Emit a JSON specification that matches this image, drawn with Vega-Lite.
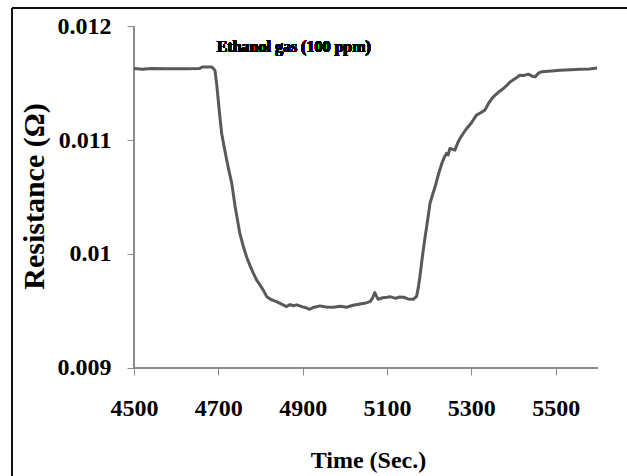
{
  "$schema": "https://vega.github.io/schema/vega-lite/v6.json",
  "width": 615,
  "height": 468,
  "autosize": {"type": "none"},
  "padding": {"left": 12, "top": 8, "right": 0, "bottom": 0},
  "background": "white",
  "config": {"view": {"stroke": null}},
  "data": {"values": [
    {"t": 4500, "r": 0.011628}, {"t": 4520, "r": 0.011622}, {"t": 4540, "r": 0.011628}, {"t": 4580, "r": 0.011626},
    {"t": 4620, "r": 0.011627}, {"t": 4655, "r": 0.011628}, {"t": 4662, "r": 0.011642}, {"t": 4685, "r": 0.011642},
    {"t": 4692, "r": 0.011614}, {"t": 4696, "r": 0.0115}, {"t": 4700, "r": 0.01135}, {"t": 4704, "r": 0.0112},
    {"t": 4708, "r": 0.01106}, {"t": 4714, "r": 0.01094}, {"t": 4720, "r": 0.010825}, {"t": 4726, "r": 0.01072},
    {"t": 4732, "r": 0.01062}, {"t": 4740, "r": 0.010415}, {"t": 4746, "r": 0.01029}, {"t": 4751, "r": 0.010182},
    {"t": 4759, "r": 0.01007}, {"t": 4767, "r": 0.009976}, {"t": 4775, "r": 0.0099}, {"t": 4783, "r": 0.009831},
    {"t": 4791, "r": 0.00977}, {"t": 4799, "r": 0.009728}, {"t": 4807, "r": 0.00968}, {"t": 4815, "r": 0.009625},
    {"t": 4825, "r": 0.0096}, {"t": 4838, "r": 0.009582}, {"t": 4850, "r": 0.00956}, {"t": 4862, "r": 0.009538},
    {"t": 4870, "r": 0.009555}, {"t": 4878, "r": 0.009545}, {"t": 4886, "r": 0.009553}, {"t": 4900, "r": 0.009535},
    {"t": 4910, "r": 0.009525}, {"t": 4917, "r": 0.009514}, {"t": 4925, "r": 0.00953}, {"t": 4941, "r": 0.009544},
    {"t": 4955, "r": 0.009535}, {"t": 4973, "r": 0.009532}, {"t": 4990, "r": 0.00954}, {"t": 5004, "r": 0.009532},
    {"t": 5020, "r": 0.00955}, {"t": 5036, "r": 0.009561}, {"t": 5050, "r": 0.00957}, {"t": 5060, "r": 0.009582},
    {"t": 5066, "r": 0.009615}, {"t": 5071, "r": 0.00966}, {"t": 5075, "r": 0.00963}, {"t": 5079, "r": 0.009602},
    {"t": 5090, "r": 0.009615}, {"t": 5100, "r": 0.00962}, {"t": 5107, "r": 0.009625}, {"t": 5120, "r": 0.00961},
    {"t": 5130, "r": 0.009622}, {"t": 5139, "r": 0.00962}, {"t": 5150, "r": 0.009605}, {"t": 5162, "r": 0.009602},
    {"t": 5170, "r": 0.009625}, {"t": 5174, "r": 0.0097}, {"t": 5178, "r": 0.0098}, {"t": 5182, "r": 0.00992},
    {"t": 5186, "r": 0.010035}, {"t": 5190, "r": 0.01014}, {"t": 5194, "r": 0.010239}, {"t": 5198, "r": 0.01034},
    {"t": 5202, "r": 0.010444}, {"t": 5208, "r": 0.01052}, {"t": 5214, "r": 0.01059}, {"t": 5222, "r": 0.0107},
    {"t": 5230, "r": 0.010795}, {"t": 5236, "r": 0.01085}, {"t": 5241, "r": 0.010883}, {"t": 5245, "r": 0.01087},
    {"t": 5249, "r": 0.010926}, {"t": 5255, "r": 0.01092}, {"t": 5261, "r": 0.010912}, {"t": 5267, "r": 0.01097},
    {"t": 5273, "r": 0.011014}, {"t": 5281, "r": 0.01106}, {"t": 5289, "r": 0.011102}, {"t": 5300, "r": 0.01115},
    {"t": 5312, "r": 0.011219}, {"t": 5322, "r": 0.01124}, {"t": 5332, "r": 0.011263}, {"t": 5342, "r": 0.01133},
    {"t": 5352, "r": 0.01138}, {"t": 5364, "r": 0.01142}, {"t": 5376, "r": 0.011453}, {"t": 5384, "r": 0.01148},
    {"t": 5392, "r": 0.011511}, {"t": 5404, "r": 0.01154}, {"t": 5415, "r": 0.01157}, {"t": 5425, "r": 0.011568},
    {"t": 5435, "r": 0.011579}, {"t": 5445, "r": 0.01156}, {"t": 5451, "r": 0.011555}, {"t": 5460, "r": 0.01159},
    {"t": 5467, "r": 0.0116}, {"t": 5490, "r": 0.011607}, {"t": 5510, "r": 0.011614}, {"t": 5535, "r": 0.011618},
    {"t": 5558, "r": 0.011623}, {"t": 5580, "r": 0.011625}, {"t": 5598, "r": 0.011634}
  ]},
  "layer": [
    {
      "mark": {"type": "rule", "color": "#111111", "strokeWidth": 2},
      "encoding": {
        "x": {"datum": 4211, "type": "quantitative", "scale": {"domain": [4211, 5669], "nice": false, "zero": false}},
        "y": {"datum": 0.00805, "type": "quantitative", "scale": {"domain": [0.00805, 0.01216], "nice": false, "zero": false}},
        "y2": {"datum": 0.01216}
      }
    },
    {
      "mark": {"type": "rule", "color": "#111111", "strokeWidth": 2},
      "encoding": {
        "x": {"datum": 4211, "type": "quantitative"},
        "x2": {"datum": 5669},
        "y": {"datum": 0.01216, "type": "quantitative"}
      }
    },
    {
      "mark": {"type": "rule", "color": "#8c8c8c", "strokeWidth": 1},
      "encoding": {
        "x": {"datum": 4500, "type": "quantitative"},
        "x2": {"datum": 5600},
        "y": {"datum": 0.009, "type": "quantitative"}
      }
    },
    {
      "mark": {"type": "rule", "color": "#8c8c8c", "strokeWidth": 1},
      "encoding": {
        "x": {"datum": 4500, "type": "quantitative"},
        "y": {"datum": 0.009, "type": "quantitative"},
        "y2": {"datum": 0.012}
      }
    },
    {
      "mark": {"type": "line", "color": "#595959", "strokeWidth": 3, "strokeJoin": "round"},
      "encoding": {
        "x": {
          "field": "t", "type": "quantitative",
          "axis": {
            "title": "Time (Sec.)", "values": [4500, 4700, 4900, 5100, 5300, 5500], "format": "d",
            "offset": -108, "domain": false, "grid": false,
            "tickColor": "#8c8c8c", "tickSize": 7,
            "labelFont": "Liberation Serif", "labelFontWeight": "bold", "labelFontSize": 24, "labelColor": "#000000",
            "labelPadding": 21, "labelFlush": false,
            "titleFont": "Liberation Serif", "titleFontWeight": "bold", "titleFontSize": 24, "titleColor": "#000000",
            "titleX": 356, "titleY": 99, "titleBaseline": "alphabetic", "titleAlign": "center"
          }
        },
        "y": {
          "field": "r", "type": "quantitative",
          "axis": {
            "title": "Resistance (Ω)", "values": [0.009, 0.01, 0.011, 0.012], "format": "~g",
            "offset": -122, "domain": false, "grid": false,
            "tickColor": "#8c8c8c", "tickSize": 7,
            "labelFont": "Liberation Serif", "labelFontWeight": "bold", "labelFontSize": 24, "labelColor": "#000000",
            "labelPadding": 16, "labelFlush": false,
            "titleFont": "Liberation Serif", "titleFontWeight": "bold", "titleFontSize": 30, "titleColor": "#000000",
            "titleAngle": -90, "titleX": -100, "titleY": 188, "titleBaseline": "middle", "titleAlign": "center"
          }
        }
      }
    },
    {
      "mark": {"type": "text", "font": "Liberation Serif", "fontWeight": "bold", "fontSize": 16, "color": "#000000", "align": "center", "baseline": "middle"},
      "encoding": {
        "x": {"datum": 4879, "type": "quantitative"},
        "y": {"datum": 0.011816, "type": "quantitative"},
        "text": {"value": "Ethanol gas (100 ppm)"}
      }
    }
  ]
}
